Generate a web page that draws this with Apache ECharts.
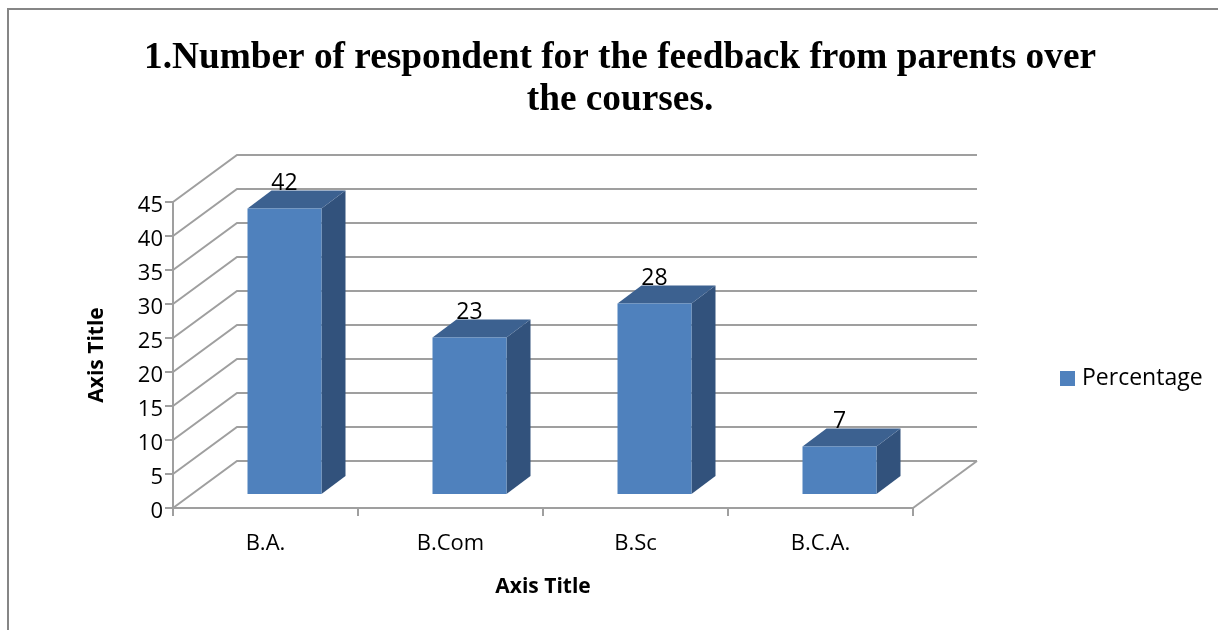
<!DOCTYPE html>
<html>
<head>
<meta charset="utf-8">
<style>
html,body{margin:0;padding:0;background:#fff;}
#main{width:1218px;height:630px;}
</style>
<script src="https://cdn.jsdelivr.net/npm/echarts@6/dist/echarts.min.js"></script>
</head>
<body>
<div id="main"></div>
<script>
var categories = ['B.A.', 'B.Com', 'B.Sc', 'B.C.A.'];
var percentage = [42, 23, 28, 7];
var seriesName = 'Percentage';
var titleLines = ['1.Number of respondent for the feedback from parents over', 'the courses.'];
var yMax = 45;
var yStep = 5;

// depth of the fake 3d box, in px
var wallDx = 64, wallDy = -47;
var barFrontDx = 19, barFrontDy = -14;
var barW = 74;
var sideDx = 24, sideDy = -18;

var gridLineColor = '#9f9f9f';
var yTicks = [];
for (var t = 0; t <= yMax; t += yStep) yTicks.push(t);

var myChart = echarts.init(document.getElementById('main'));

function wallItem(params, api) {
  var v = api.value(0);
  var p = api.coord([0, v]);
  var left = params.coordSys.x;
  var right = left + params.coordSys.width;
  var y = p[1];
  var st = {stroke: gridLineColor, lineWidth: 2, fill: null};
  var children = [
    {type: 'polyline', shape: {points: [[left, y], [left + wallDx, y + wallDy], [right + wallDx, y + wallDy]]}, style: st}
  ];
  // floor edge on the right
  if (v === 0) {
    children.push({type: 'line', shape: {x1: right, y1: y, x2: right + wallDx, y2: y + wallDy}, style: st});
  }
  return {type: 'group', silent: true, children: children};
}

function barItem(params, api) {
  var idx = api.value(0);
  var top = api.coord([idx, api.value(1)]);
  var base = api.coord([idx, 0]);
  var x0 = top[0] + barFrontDx - barW / 2;
  var x1 = x0 + barW;
  var yt = top[1] + barFrontDy;
  var yb = base[1] + barFrontDy;
  return {
    type: 'group',
    children: [
      {type: 'polygon', shape: {points: [[x1, yt], [x1 + sideDx, yt + sideDy], [x1 + sideDx, yb + sideDy], [x1, yb]]}, style: {fill: '#32527c'}},
      {type: 'polygon', shape: {points: [[x0, yt], [x0 + sideDx, yt + sideDy], [x1 + sideDx, yt + sideDy], [x1, yt]]}, style: {fill: '#3c6190'}},
      {type: 'rect', shape: {x: x0, y: yt, width: barW, height: yb - yt}, style: {fill: '#4f81bd'}},
      {type: 'text', z2: 10, style: {
        x: x0 + barW / 2, y: yt - 25, text: String(api.value(1)),
        align: 'center', verticalAlign: 'middle',
        fill: '#000', font: '23px "Open Sans", "Noto Sans", sans-serif'
      }}
    ]
  };
}

var option = {
  backgroundColor: '#fff',
  animation: false,
  title: {
    text: titleLines.join('\n'),
    left: 615, top: 32, textAlign: 'center',
    textStyle: {fontFamily: '"Liberation Serif", serif', fontWeight: 'bold', fontSize: 37.3, lineHeight: 42, color: '#000'}
  },
  legend: {
    show: true,
    data: [{name: seriesName, icon: 'rect', itemStyle: {color: '#4f81bd'}}],
    left: 1055, top: 362,
    itemWidth: 15, itemHeight: 15, itemGap: 5,
    textStyle: {fontFamily: '"Open Sans", "Noto Sans", sans-serif', fontSize: 23, color: '#000', padding: [0, 0, 0, 2]}
  },
  grid: {left: 173, right: 305, top: 202, bottom: 122},
  xAxis: {
    type: 'category',
    data: categories,
    name: 'Axis Title',
    nameLocation: 'middle',
    nameGap: 69,
    nameTextStyle: {fontFamily: '"Open Sans", sans-serif', fontWeight: 'bold', fontSize: 21, color: '#000'},
    axisLine: {lineStyle: {color: gridLineColor, width: 2}},
    axisTick: {show: true, alignWithLabel: false, length: 8, inside: false, lineStyle: {color: gridLineColor, width: 2}},
    axisLabel: {margin: 25, fontFamily: '"Open Sans", sans-serif', fontSize: 22, color: '#000'}
  },
  yAxis: {
    type: 'value',
    min: 0, max: yMax, interval: yStep,
    name: 'Axis Title',
    nameLocation: 'middle',
    nameGap: 65,
    nameRotate: 90,
    nameTextStyle: {fontFamily: '"Open Sans", sans-serif', fontWeight: 'bold', fontSize: 21, color: '#000'},
    axisLine: {show: true, lineStyle: {color: gridLineColor, width: 2}},
    axisTick: {show: true, length: 8, lineStyle: {color: gridLineColor, width: 2}},
    axisLabel: {
      margin: 10,
      formatter: '{t|{value}}',
      rich: {t: {padding: [7, 0, 0, 0], fontFamily: '"Open Sans", sans-serif', fontSize: 22, color: '#000'}}
    },
    splitLine: {show: false}
  },
  series: [
    {
      type: 'custom', name: 'wall', silent: true, z: 1,
      renderItem: wallItem,
      data: yTicks.map(function (v) { return [v]; }),
      encode: {y: 0},
      clip: false
    },
    {
      type: 'custom', name: seriesName, z: 3,
      renderItem: barItem,
      itemStyle: {color: '#4f81bd'},
      data: percentage.map(function (v, i) { return [i, v]; }),
      encode: {x: 0, y: 1},
      clip: false
    }
  ],
  graphic: [
    {type: 'polyline', silent: true, z: -1, shape: {points: [[8, 630], [8, 9], [1218, 9]]}, style: {stroke: '#868686', lineWidth: 2, fill: null}}
  ]
};

option && myChart.setOption(option);
</script>
</body>
</html>
